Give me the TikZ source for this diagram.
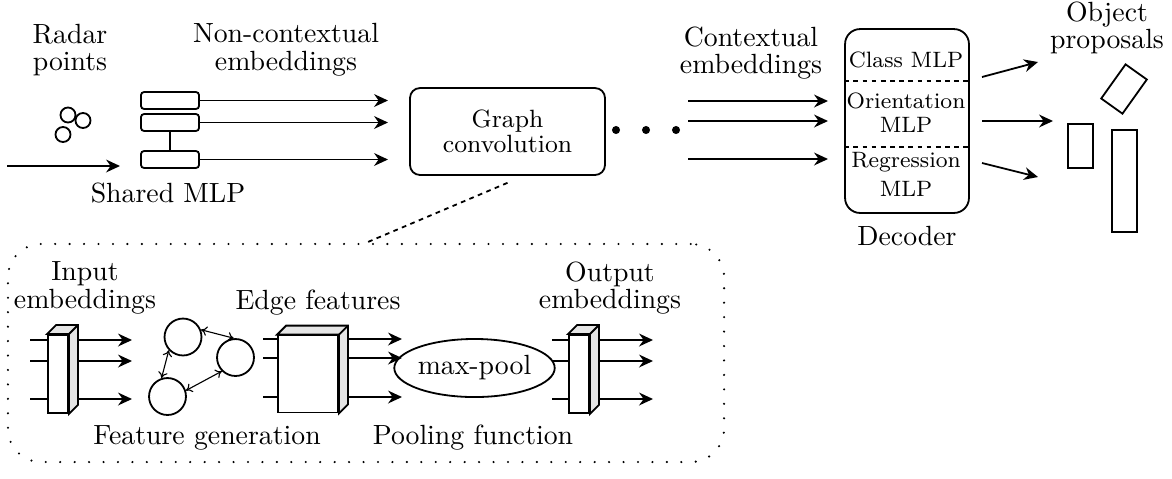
\documentclass[tikz,border=0pt]{standalone}
\usepackage{tikz}
\usetikzlibrary{arrows.meta,positioning,shapes.geometric}

\tikzset{
  lbl/.style={align=center, font=\fontsize{10}{10}\selectfont, inner sep=0pt},
  mlp/.style={draw, rounded corners=1.1pt, minimum width=20.9pt, minimum height=6.1pt, inner sep=0pt},
  arr/.style={-{Stealth[length=5pt,width=4.6pt]}},
  dbl/.style={{To[length=2.2pt,width=3.4pt]}-{To[length=2.2pt,width=3.4pt]}, thin},
  dsh/.style={dash pattern=on 1.7pt off 1.6pt},
  prop/.style={draw, inner sep=0pt},
  blk/.style={draw, fill=white, inner sep=0pt},
  side/.style={draw, fill=black!10},
}

\begin{document}
\begin{tikzpicture}[x=0.36pt, y=-0.36pt, line width=0.65pt]
\useasboundingbox (0,0) rectangle (1172,478);

% Labels on top
\node[lbl] (radar) at (70,50) {Radar\\points};
\node[lbl] (nce) at (286,50) {Non-contextual\\embeddings};
\node[lbl] (ce) at (751,53) {Contextual\\embeddings};
\node[lbl] (op) at (1107,28) {Object\\proposals};

% Radar points and shared MLP
\node[draw, circle, inner sep=0pt, minimum size=5.4pt] (p1) at (68,115) {};
\node[draw, circle, inner sep=0pt, minimum size=5.4pt] (p2) at (83,120.5) {};
\node[draw, circle, inner sep=0pt, minimum size=5.4pt] (p3) at (63,134.5) {};
\coordinate (in) at (7,166);
\coordinate (inend) at (120,166);
\draw[arr] (in) -- (inend);

\node[mlp] (m1) at (170,100.5) {};
\node[mlp] (m2) at (170,122.5) {};
\node[mlp] (m3) at (170,159.5) {};
\draw (m2) -- (m3);
\coordinate (ne) at (388,0);
\foreach \i in {1,2,3}
  \draw[arr] (m\i) -- (m\i -| ne);
\node[lbl, anchor=base] (smlp) at (168,202) {Shared MLP};

% Graph convolution and dots
\node[draw, rounded corners=3.6pt, minimum width=70.2pt, minimum height=31.3pt, align=center, font=\fontsize{9}{9}\selectfont] (gc) at (507.5,131.5) {Graph\\convolution};
\foreach \i/\x in {1/616,2/646,3/676}
  \node[circle, fill, inner sep=0pt, minimum size=2.9pt] (d\i) at (\x,130) {};

% Contextual embeddings
\foreach \i/\y in {1/101,2/121,3/159} {
  \coordinate (cs\i) at (688,\y);
  \coordinate (ct\i) at (828,\y);
  \draw[arr] (cs\i) -- (ct\i);
}

% Decoder
\node[draw, rounded corners=5.4pt, minimum width=44.6pt, minimum height=66.2pt] (dec) at (907,121) {};
\coordinate (s1) at (907,81);
\coordinate (s2) at (907,147);
\draw[dsh] (dec.west |- s1) -- (dec.east |- s1);
\draw[dsh] (dec.west |- s2) -- (dec.east |- s2);
\node[font=\footnotesize, anchor=base, inner sep=0pt] (cls) at (906,67) {Class MLP};
\node[font=\footnotesize, anchor=base, inner sep=0pt] (ori) at (906,108) {Orientation};
\node[font=\footnotesize, anchor=base, inner sep=0pt] (orim) at (906,132) {MLP};
\node[font=\footnotesize, anchor=base, inner sep=0pt] (reg) at (906,167) {Regression};
\node[font=\footnotesize, anchor=base, inner sep=0pt] (regm) at (906,196) {MLP};
\node[lbl, anchor=base] (decl) at (907,245) {Decoder};

% Object proposals
\coordinate (a1) at (982,77);   \coordinate (b1) at (1038,62);
\coordinate (a2) at (982,121);  \coordinate (b2) at (1053,121);
\coordinate (a3) at (982,163);  \coordinate (b3) at (1038,177);
\draw[arr] (a1) -- (b1);
\draw[arr] (a2) -- (b2);
\draw[arr] (a3) -- (b3);
\node[prop, minimum width=9.4pt, minimum height=15.1pt, rotate=-35.5] (r1) at (1124,89) {};
\node[prop, minimum width=9pt, minimum height=15.8pt] (r2) at (1080.5,146) {};
\node[prop, minimum width=9pt, minimum height=36.7pt] (r3) at (1124.5,181) {};

% Graph convolution in detail
\node[draw, line width=0.85pt, dash pattern=on 0pt off 5.2pt, line cap=round, rounded corners=12pt, minimum width=257.8pt, minimum height=78.5pt] (gbox) at (366,353) {};
\draw[dsh] ([yshift=-2.5pt]gc.south) -- (gbox.north);

\node[lbl] (ie) at (85,288) {Input\\embeddings};
\node[lbl, anchor=base] (ef) at (318,309) {Edge features};
\node[lbl] (oe) at (610,288) {Output\\embeddings};
\node[lbl, anchor=base] (fg) at (207,444) {Feature generation};
\node[lbl, anchor=base] (pf) at (473,444) {Pooling function};

% 3D blocks: name/x/width/height
\foreach \n/\x/\w/\h in {ib/58/7.2pt/28.1pt, eb/308/21.6pt/27.7pt, ob/579/7.2pt/28.1pt} {
  \node[blk, minimum width=\w, minimum height=\h] (\n) at (\x,374) {};
  \draw[side] (\n.north west) -- ++(9,-9) -| ([shift={(9,-9)}]\n.south east) -- (\n.south east) -- (\n.north east) -- cycle;
  \draw (\n.north east) -- ++(9,-9);
}

% Lines through the blocks
\foreach \y in {340,361,399} {
  \coordinate (il\y) at (30,\y);
  \coordinate (ia\y) at (132,\y);
  \draw (il\y) -- (il\y -| ib.west);
  \draw[arr] ([xshift=3.24pt]ib.east |- il\y) -- (ia\y);
  \coordinate (ol\y) at (552,\y);
  \coordinate (oa\y) at (653,\y);
  \draw (ol\y) -- (ol\y -| ob.west);
  \draw[arr] ([xshift=3.24pt]ob.east |- ol\y) -- (oa\y);
}
\foreach \y in {339,358,397} {
  \coordinate (el\y) at (263,\y);
  \coordinate (ea\y) at (402,\y);
  \draw (el\y) -- (el\y -| eb.west);
  \draw[arr] ([xshift=3.24pt]eb.east |- el\y) -- (ea\y);
}

% Feature generation graph
\node[draw, circle, inner sep=0pt, minimum size=13.3pt] (g1) at (183,337) {};
\node[draw, circle, inner sep=0pt, minimum size=13.3pt] (g2) at (235.5,357.5) {};
\node[draw, circle, inner sep=0pt, minimum size=13.3pt] (g3) at (167.5,396.5) {};
\draw[dbl] (g1.22) -- (g2.95);
\draw[dbl] (g1.223) -- (g3.108);
\draw[dbl] (g2.225) -- (g3.18);

% Pooling
\node[draw, ellipse, inner sep=0pt, minimum width=49.3pt, minimum height=20.9pt] (mp) at (474.5,368) {max-pool};

\end{tikzpicture}
\end{document}
